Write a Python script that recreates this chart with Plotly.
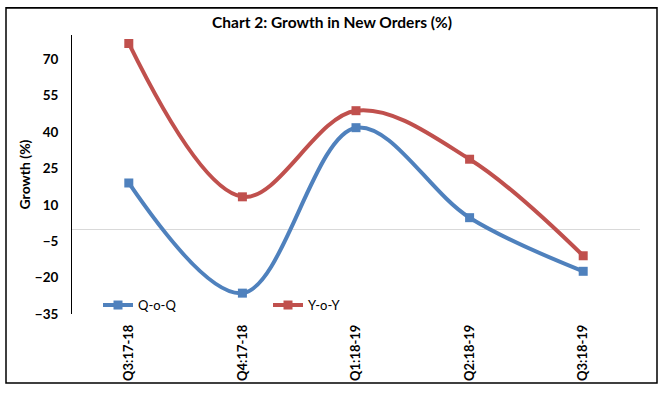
import plotly.graph_objects as go

categories = ["Q3:17-18", "Q4:17-18", "Q1:18-19", "Q2:18-19", "Q3:18-19"]
qoq = [19.0, -26.4, 41.8, 4.7, -17.4]
yoy = [76.5, 13.3, 48.8, 28.8, -11.0]
y_ticks = [-35, -20, -5, 10, 25, 40, 55, 70]

FONT = "Lato"

fig = go.Figure()
fig.add_trace(go.Scatter(
    x=categories, y=qoq, name="Q-o-Q", mode="lines+markers",
    line=dict(color="#4F81BD", width=4, shape="spline", smoothing=1.0),
    marker=dict(symbol="square", size=9, color="#4F81BD"),
))
fig.add_trace(go.Scatter(
    x=categories, y=yoy, name="Y-o-Y", mode="lines+markers",
    line=dict(color="#C0504D", width=4, shape="spline", smoothing=1.0),
    marker=dict(symbol="square", size=9, color="#C0504D"),
))

fig.update_layout(
    width=664, height=393,
    paper_bgcolor="white", plot_bgcolor="white",
    margin=dict(l=72, r=24, t=35, b=77),
    font=dict(family=FONT, color="black"),
    title=dict(text="<b>Chart 2: Growth in New Orders (%)</b>",
               x=0.5, xref="container", xanchor="center",
               y=1 - 23 / 393, yanchor="middle",
               font=dict(family=FONT, size=15.5, color="black")),
    showlegend=True,
    legend=dict(orientation="h", x=(98 - 72) / 568, xanchor="left",
                y=(316 - 307) / 281, yanchor="middle",
                bgcolor="rgba(0,0,0,0)",
                entrywidth=125, entrywidthmode="pixels",
                font=dict(family=FONT, size=13, color="black"),
                tracegroupgap=0),
    shapes=[dict(type="rect", xref="paper", yref="paper",
                 x0=-66 / 568, x1=(657 - 72) / 568,
                 y0=-(385.5 - 316) / 281, y1=1 + (35 - 7.5) / 281,
                 line=dict(color="black", width=1.5), layer="above"),
            dict(type="line", xref="paper", yref="paper",
                 x0=-66 / 568, x1=(657 - 72) / 568,
                 y0=1 + (35 - 7.5) / 281, y1=1 + (35 - 7.5) / 281,
                 line=dict(color="black", width=1.5), layer="above")],
)

fig.update_xaxes(
    type="category", range=[-0.5, 4.5],
    showline=False, showgrid=False, ticks="", ticklabelstandoff=7,
    tickangle=-90, tickfont=dict(family=FONT, size=13, color="black", weight="bold"),
)
fig.update_yaxes(
    range=[-35, 80], tickvals=y_ticks,
    showline=True, linecolor="black", linewidth=1,
    showgrid=False, zeroline=True, zerolinecolor="#D9D9D9", zerolinewidth=1,
    ticks="", ticklabelstandoff=10,
    tickfont=dict(family=FONT, size=13.5, color="black", weight="bold"),
    title=dict(text="<b>Growth (%)</b>", standoff=0,
               font=dict(family=FONT, size=14, color="black")),
)

fig.write_html("out.html", config={"displayModeBar": False},
               post_script="document.body.style.margin='0';document.body.style.overflow='hidden';")
